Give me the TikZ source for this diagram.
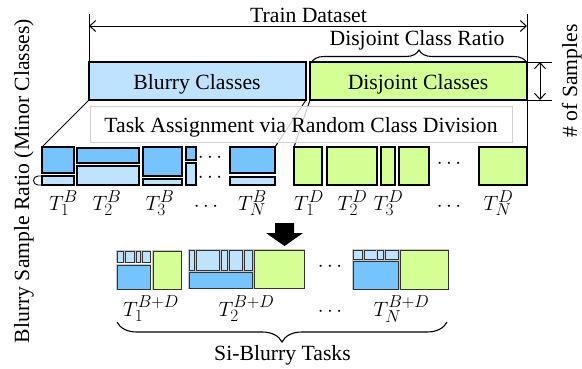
\documentclass[tikz,border=0pt]{standalone}
\usepackage{fontspec}
\setmainfont{Liberation Serif}
\usetikzlibrary{decorations.pathreplacing,arrows.meta}
\DeclareMathSizes{21.7}{21.7}{16.5}{13}

\definecolor{bluelt}{HTML}{BDE3FF}
\definecolor{bluemid}{HTML}{75C4FF}
\definecolor{greenlt}{HTML}{D4FF94}

% box from two corners: name, x1, y1, x2, y2, style
\newcommand\clsbox[6]{%
  \node[#6, minimum width={(#4)-(#2)}, minimum height={(#5)-(#3)}]
    (#1) at ({((#2)+(#4))/2},{((#3)+(#5))/2}) {};}

\tikzset{
  cls/.style={draw=black, line width=1.2pt, inner sep=0pt, outer sep=0pt},
  bmid/.style={cls, fill=bluemid},
  blt/.style={cls, fill=bluelt},
  grn/.style={cls, fill=greenlt},
  halo/.style={draw=black!80, line width=1pt, preaction={draw=gray!45, line width=1.9pt}},
  lbl/.style={anchor=base, inner sep=0pt},
  dim/.style={line width=1pt, {Straight Barb[length=6pt,width=11pt]}-{Straight Barb[length=6pt,width=11pt]}},
  edge/.style={line width=1pt},
  brc/.style={line width=1.1pt, decorate},
}

\begin{document}
\begin{tikzpicture}[x=1pt, y=-1pt, font=\fontsize{21.7}{26}\selectfont]
\useasboundingbox (0,0) rectangle (582,368);

% class pools
\clsbox{blur}{89}{62}{306}{100}{blt}
\clsbox{dis}{310}{62}{527}{100}{grn}
\node[lbl] (blurtxt) at (197,89) {Blurry Classes};
\node[lbl] (distxt) at (418,89) {Disjoint Classes};

% blurry tasks: major part on top, minor part below
\clsbox{t1b}{42}{147}{74}{173}{bmid}
\clsbox{t1bm}{42}{176}{74}{185}{blt}
\clsbox{t2b}{77}{148}{139}{163}{bmid}
\clsbox{t2bm}{77}{166}{139}{185}{blt}
\clsbox{t3b}{143}{147}{182}{176}{bmid}
\clsbox{t3bm}{143}{179}{182}{185}{blt}
\clsbox{t4b}{186}{147}{196}{160}{bmid}
\clsbox{t4bm}{186}{163}{196}{185}{blt}
\clsbox{tnb}{230}{147}{275}{173}{bmid}
\clsbox{tnbm}{230}{177}{275}{185}{blt}
\node (bdots1) at (210,158) {$\cdots$};
\node (bdots2) at (210,178) {$\cdots$};

% disjoint tasks
\clsbox{t1d}{294}{147}{322}{185}{grn}
\clsbox{t2d}{327}{147}{377}{185}{grn}
\clsbox{t3d}{381}{147}{395}{185}{grn}
\clsbox{t4d}{399}{147}{429}{185}{grn}
\clsbox{tnd}{479}{147}{527}{185}{grn}
\node (ddots) at (449,164) {$\cdots$};

% split lines from the pools down to the tasks
\draw[edge] (blur.south west) -- (t1b.north west);
\draw[edge] (blur.south east) -- (tnb.north east);
\draw[edge] (dis.south west) -- (t1d.north west);
\coordinate (ltop) at (89,14);
\coordinate (rtop) at (527,14);
\draw[edge] (ltop) -- (blur.north west);
\draw[edge] (rtop) -- (tnd.north east);

% minor-ratio marker
\draw[line width=0.9pt] (t1bm.south west) -- ++(-4,0) arc[start angle=90, end angle=270, radius=4.5] -- (t1bm.north west);

% task assignment banner
\node[draw=black!18, fill=white, fill opacity=0.8, minimum width=422, minimum height=36, inner sep=0pt] (assign) at (301,124) {};
\node[lbl] (assigntxt) at (301,132) {Task Assignment via Random Class Division};

% dataset extent
\coordinate (la) at (89,26);
\coordinate (ra) at (527,26);
\draw[dim] (la) -- (ra);
\node[lbl] (train) at (308.5,22) {Train Dataset};

% disjoint ratio brace
\coordinate (bra) at (311,63);
\coordinate (brb) at (527,63);
\draw[brc, decoration={brace, amplitude=13pt}] (bra) -- (brb);
\node[lbl] (ratio) at (417,45) {Disjoint Class Ratio};

% number of samples
\coordinate (s1) at (552,62);
\coordinate (s2) at (552,100);
\coordinate (sa) at (540,62);
\coordinate (sb) at (540,100);
\draw[edge] (dis.north east) -- (s1);
\draw[edge] (dis.south east) -- (s2);
\draw[dim] (sa) -- (sb);
\node[lbl, rotate=90] (samples) at (577,81) {\# of Samples};

% axis label
\node[lbl, rotate=90] (ratioaxis) at (29,181) {Blurry Sample Ratio (Minor Classes)};

% task labels
\node[lbl] (l1b) at (63.5,210) {$T_1^B$};
\node[lbl] (l2b) at (107,210) {$T_2^B$};
\node[lbl] (l3b) at (160,210) {$T_3^B$};
\node[lbl] (lbd) at (206,211) {$\cdots$};
\node[lbl] (lnb) at (252.5,210) {$T_N^B$};
\node[lbl] (l1d) at (309,210) {$T_1^D$};
\node[lbl] (l2d) at (352.5,210) {$T_2^D$};
\node[lbl] (l3d) at (388.5,210) {$T_3^D$};
\node[lbl] (ldd) at (449,211) {$\cdots$};
\node[lbl] (lnd) at (498.5,210) {$T_N^D$};

% merge arrow
\fill (275,223) -- (294,223) -- (294,233) -- (303,233) -- (284.5,246) -- (266,233) -- (275,233) -- cycle;

% merged tasks
\clsbox{m1a}{117}{251}{123}{262}{blt,halo}
\clsbox{m1b}{125}{251}{134}{262}{blt,halo}
\clsbox{m1c}{136}{251}{140}{262}{blt,halo}
\clsbox{m1d}{142}{251}{150}{262}{blt,halo}
\clsbox{m1}{117}{265}{150}{289}{bmid,halo}
\clsbox{m1g}{153}{251}{181}{289}{grn,halo}

\clsbox{m2a}{189}{250}{194}{270}{blt,halo}
\clsbox{m2b}{196}{250}{219}{270}{blt,halo}
\clsbox{m2c}{221}{250}{227}{270}{blt,halo}
\clsbox{m2d}{229}{250}{242}{270}{blt,halo}
\clsbox{m2e}{244}{250}{252}{270}{blt,halo}
\clsbox{m2}{189}{272}{252}{288}{bmid,halo}
\clsbox{m2g}{254}{250}{304}{288}{grn,halo}

\clsbox{mna}{353}{250}{362}{259}{blt,halo}
\clsbox{mnb}{364}{250}{376}{259}{blt,halo}
\clsbox{mnc}{377}{250}{383}{259}{blt,halo}
\clsbox{mnd}{385}{250}{398}{259}{blt,halo}
\clsbox{mn}{353}{261}{398}{289}{bmid,halo}
\clsbox{mng}{400}{250}{448}{289}{grn,halo}

\node (mdots) at (330,267) {$\cdots$};
\node[lbl] (l1m) at (151,316) {$T_1^{B+D}$};
\node[lbl] (l2m) at (246.5,316) {$T_2^{B+D}$};
\node[lbl] (lmd) at (330,316) {$\cdots$};
\node[lbl] (lnm) at (401.5,316) {$T_N^{B+D}$};

% task brace
\coordinate (bb1) at (447,322);
\coordinate (bb2) at (117,322);
\draw[brc, decoration={brace, amplitude=20pt}] (bb1) -- (bb2);
\node[lbl] (tasks) at (282.5,360) {Si-Blurry Tasks};
\end{tikzpicture}
\end{document}
